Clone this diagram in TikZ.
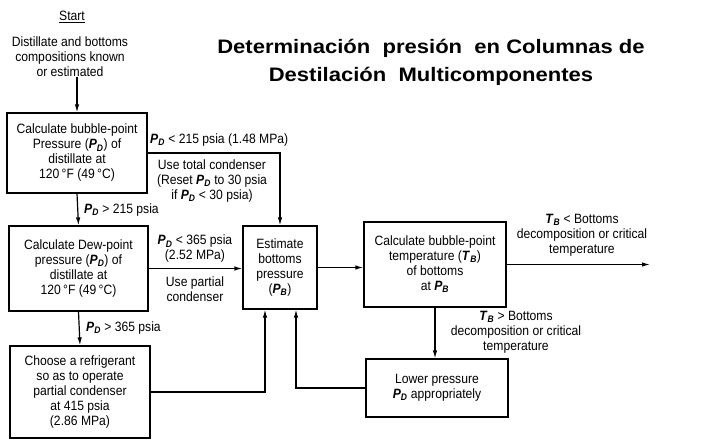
\documentclass[tikz,border=0pt]{standalone}
\usepackage{fontspec}
\setmainfont[FakeStretch=0.9]{Liberation Sans}
\newfontfamily\titlefont[FakeStretch=1.13]{Liberation Sans}
\usetikzlibrary{arrows.meta,positioning}
\newcommand{\pvar}[2]{\textbf{\textit{#1}}\textsubscript{\textbf{\textit{#2}}}}

\begin{document}
\begin{tikzpicture}[x=1pt, y=-1pt, font=\fontsize{13.5}{15}\selectfont,
    box/.style={draw, line width=1.2pt, align=center, inner sep=0pt},
    lbl/.style={align=center, inner sep=0pt},
    flow/.style={line width=1.2pt, -{Latex[length=8pt,width=4.5pt]}}]
    \useasboundingbox (0,0) rectangle (716,445);
    \node[lbl] (start) at (72,17) {\underline{Start}};
    \node[lbl] (init) at (70,57) {Distillate and bottoms\\compositions known\\or estimated};
    \node[box, minimum width=140, minimum height=80] (bub) at (77,153)
        {Calculate bubble-point\\Pressure (\pvar{P}{D}) of\\distillate at\\120\,°F (49\,°C)};
    \path (bub) ++ (1.5,115.5) node[box, minimum width=139, minimum height=85] (dew)
        {Calculate Dew-point\\pressure (\pvar{P}{D}) of\\distillate at\\120\,°F (49\,°C)};
    \path (dew) ++ (1.5,123.5) node[box, minimum width=140, minimum height=92] (ref)
        {Choose a refrigerant\\so as to operate\\partial condenser\\at 415 psia\\(2.86 MPa)};
    \node[box, minimum width=74, minimum height=83] (est) at (280,267.5)
        {Estimate\\bottoms\\pressure\\(\pvar{P}{B})};
    \node[box, minimum width=142, minimum height=85] (calc) at (435,264.5)
        {Calculate bubble-point\\temperature (\pvar{T}{B})\\of bottoms\\at \pvar{P}{B}};
    \path (calc) ++ (2,123.5) node[box, minimum width=142, minimum height=58] (low)
        {Lower pressure\\\pvar{P}{D} appropriately};
    \coordinate (out) at (650,264.5);
    \node[lbl, font=\titlefont\fontsize{19.5}{28}\selectfont\bfseries] (head) at (431,62)
        {Determinación\ \ presión\ \ en Columnas\ de\\Destilación\ \ Multicomponentes};
    \node[lbl, anchor=west] (l1) at (150,140) {\pvar{P}{D} < 215 psia (1.48 MPa)};
    \node[lbl] (l2) at (212,181) {Use total condenser\\(Reset \pvar{P}{D} to 30 psia\\if \pvar{P}{D} < 30 psia)};
    \node[lbl, anchor=west] (l3) at (84,210) {\pvar{P}{D} > 215 psia};
    \node[lbl] (l4) at (195,249) {\pvar{P}{D} < 365 psia\\(2.52 MPa)};
    \node[lbl] (l5) at (195,289) {Use partial\\condenser};
    \node[lbl, anchor=west] (l6) at (86,328) {\pvar{P}{D} > 365 psia};
    \node[lbl] (l7) at (582,235) {\pvar{T}{B} < Bottoms\\decomposition or critical\\temperature};
    \node[lbl] (l8) at (516,332) {\pvar{T}{B} > Bottoms\\decomposition or critical\\temperature};
    \draw[flow] (bub.north |- init.south) -- (bub.north);
    \draw[flow] (bub.east) -| (est.north);
    \draw[flow] (bub.south) -- (dew.north);
    \draw[flow] (dew.east) -- (dew.east -| est.west);
    \draw[flow] (dew.south) -- (ref.north);
    \draw[flow] (ref.east) -| ([xshift=-15pt]est.south);
    \draw[flow] (low.west) -| ([xshift=16pt]est.south);
    \draw[flow] (est.east) -- (est.east -| calc.west);
    \draw[flow] (calc.east) -- (out);
    \draw[flow] (calc.south) -- (calc.south |- low.north);
\end{tikzpicture}
\end{document}
